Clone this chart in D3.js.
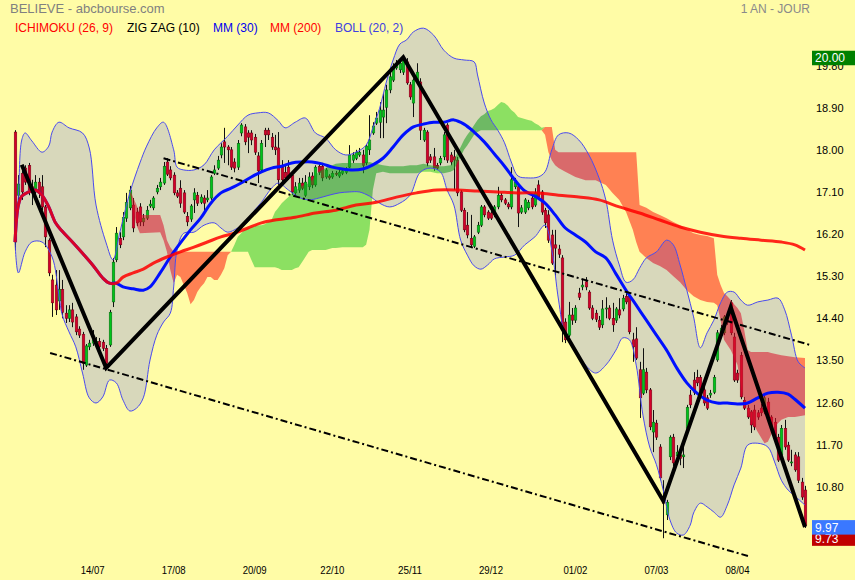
<!DOCTYPE html>
<html><head><meta charset="utf-8">
<script src="https://cdn.jsdelivr.net/npm/d3@7"></script>
<style>body{margin:0;background:#fffca6}svg{display:block;font-family:"Liberation Sans",Arial,sans-serif}</style>
</head><body><svg id="c" width="855" height="580"></svg>
<script>
// ---- candles (daily) ----
const open=[18.38,17.03,17.50,17.61,17.67,17.21,17.10,17.31,17.21,16.78,
16.07,15.22,15.11,14.77,15.02,14.51,14.40,14.58,14.43,14.17,
14.06,13.40,13.79,13.87,13.87,13.91,13.89,13.76,13.83,14.75,
15.65,16.11,16.14,16.54,16.76,16.82,16.67,16.78,16.46,16.54,
16.80,16.76,17.10,17.21,17.29,17.74,17.57,17.46,17.08,17.18,
17.08,16.58,16.52,16.93,17.03,16.88,16.97,16.93,16.97,17.50,
17.61,17.89,18.17,18.06,18.00,17.74,17.63,18.36,18.49,18.36,
18.36,18.27,17.87,17.57,18.42,18.42,18.27,18.06,18.04,17.63,
17.52,17.63,17.46,17.08,17.14,17.29,17.03,17.21,17.44,17.25,
17.65,17.65,17.42,17.44,17.42,17.50,17.44,17.50,17.52,17.63,
17.78,17.82,17.89,17.89,17.72,18.00,18.36,18.57,18.59,18.70,
18.91,19.28,19.49,19.75,19.71,19.66,19.88,19.39,19.00,19.49,
19.45,18.21,18.38,17.85,17.85,17.67,17.72,17.85,18.53,17.89,
17.85,17.78,17.10,16.71,16.39,16.11,15.94,16.24,16.39,16.78,
16.67,16.65,16.61,16.78,17.03,16.93,16.84,16.78,17.21,17.21,
16.67,16.67,16.76,16.97,16.82,17.25,17.10,16.71,16.61,16.18,
15.97,15.88,15.69,14.32,14.04,14.47,14.36,14.94,15.07,15.18,
14.96,14.62,14.51,14.36,14.26,14.60,14.62,14.40,14.36,14.58,
14.60,14.87,14.87,13.94,13.96,13.30,12.80,13.25,12.87,11.97,
12.16,11.65,10.58,10.20,11.44,11.86,11.46,11.48,11.44,12.05,
12.76,13.08,13.14,13.14,12.87,12.70,12.76,12.82,13.51,14.04,
14.09,14.43,14.73,14.00,13.23,13.61,12.65,12.48,12.40,12.44,
12.38,12.48,12.40,12.61,12.29,12.18,11.86,11.48,12.05,11.69,
11.31,11.48,11.44,10.90,10.73];
const close=[16.03,17.27,17.10,17.31,17.14,17.08,17.31,17.08,16.78,16.14,
15.37,14.73,14.58,15.02,14.53,14.40,14.58,14.32,14.11,14.04,
13.44,13.81,13.87,13.94,13.91,13.79,13.76,13.44,14.53,15.60,
16.22,15.97,16.56,16.88,17.14,16.33,16.44,16.46,16.54,16.71,
16.84,16.97,17.18,17.31,17.65,17.48,17.40,17.08,17.01,16.86,
16.67,16.46,16.80,17.08,16.86,16.99,16.86,16.97,17.42,17.57,
17.78,18.06,18.06,18.00,17.63,17.61,18.14,18.53,18.17,18.27,
18.21,17.95,17.55,18.14,18.32,18.32,18.06,18.00,17.36,17.36,
17.40,17.42,17.10,17.21,17.29,17.18,17.31,17.42,17.25,17.63,
17.52,17.40,17.57,17.40,17.50,17.48,17.52,17.55,17.57,17.89,
17.89,17.95,17.95,17.67,18.08,18.21,18.51,18.68,18.85,18.85,
19.28,19.56,19.77,19.85,19.85,19.92,19.43,19.13,19.49,19.66,
18.42,18.42,17.72,17.78,17.61,17.61,17.82,18.32,17.78,17.74,
17.78,17.08,16.71,16.29,16.18,15.97,16.14,16.39,16.78,16.61,
16.54,16.54,16.78,17.03,16.93,16.86,16.78,17.36,17.31,16.65,
16.76,16.93,16.88,16.78,17.08,16.99,16.67,16.44,16.07,15.58,
15.90,15.77,14.15,13.94,14.47,14.36,14.62,14.85,15.11,15.07,
14.62,14.40,14.38,14.21,14.60,14.62,14.40,14.26,14.60,14.47,
14.83,14.75,14.11,13.79,13.55,12.70,13.30,12.87,12.08,12.18,
11.86,10.99,10.45,10.47,11.86,11.31,11.54,11.41,11.48,12.50,
12.55,12.82,13.02,12.76,12.59,12.48,12.80,13.14,14.09,14.19,
14.43,14.32,14.09,13.08,13.08,12.72,12.48,12.29,12.12,12.08,
12.29,12.38,12.70,12.23,12.08,11.86,11.37,12.05,11.65,11.37,
11.33,11.16,10.94,10.58,9.97];
const high=[18.42,17.46,17.67,17.67,17.72,17.36,17.46,17.40,17.46,16.82,
16.11,15.33,15.43,15.43,15.22,14.68,14.68,14.73,14.49,14.23,
14.11,13.85,13.94,14.15,14.00,13.98,13.94,13.83,14.58,15.69,
16.35,16.24,16.67,17.08,17.23,16.97,16.76,16.86,16.63,16.80,
16.93,17.01,17.25,17.40,17.74,17.82,17.65,17.52,17.14,17.35,
17.14,16.67,16.84,17.18,17.10,17.05,17.03,17.14,17.46,17.67,
17.87,18.14,18.47,18.10,18.06,17.82,18.21,18.57,18.55,18.42,
18.42,18.34,17.95,18.21,18.47,18.47,18.36,18.32,18.38,17.78,
17.67,17.78,17.52,17.31,17.40,17.40,17.46,17.52,17.52,17.67,
17.69,17.72,17.61,17.48,17.55,17.55,17.57,17.59,17.63,18.10,
17.95,18.00,18.04,18.00,18.12,18.74,18.59,18.81,19.02,19.21,
19.39,19.66,19.85,19.92,19.94,19.98,19.96,19.45,19.53,19.85,
19.53,18.47,18.42,17.91,18.04,17.72,17.87,18.38,18.57,17.95,
18.00,17.85,17.14,16.76,16.67,16.61,16.18,16.46,16.82,16.82,
16.71,16.69,16.82,17.21,17.08,16.97,16.88,17.63,17.40,17.25,
16.82,16.97,16.93,17.03,17.18,17.35,17.14,16.76,16.71,16.29,
16.29,15.97,15.75,14.40,14.75,14.62,14.68,15.05,15.22,15.28,
15.00,14.68,14.58,14.45,14.79,14.85,14.68,14.73,14.64,14.83,
14.90,15.00,14.92,14.09,14.21,13.47,13.76,13.34,12.91,12.44,
12.23,11.71,10.94,10.52,11.90,11.93,11.69,11.65,11.73,12.55,
12.87,13.25,13.30,13.19,12.93,12.76,12.87,13.19,14.15,14.26,
14.47,14.49,14.79,14.09,13.30,13.68,12.72,12.55,12.44,12.55,
12.44,12.57,12.74,12.70,12.33,12.27,11.93,12.12,12.23,11.76,
11.59,11.54,11.54,10.99,10.82];
const low=[15.86,16.71,16.93,17.25,17.03,16.82,16.93,16.97,16.71,15.92,
15.30,14.43,14.47,14.58,14.40,14.30,14.32,14.21,14.04,13.98,
13.30,13.36,13.72,13.81,13.79,13.74,13.70,13.34,13.79,14.64,
15.60,15.90,16.07,16.46,16.71,16.24,16.37,16.37,16.37,16.50,
16.76,16.71,17.05,17.14,17.25,17.44,17.35,17.03,16.97,16.76,
16.63,16.37,16.46,16.65,16.80,16.84,16.67,16.88,16.93,17.46,
17.57,17.82,17.72,17.67,17.57,17.52,17.57,18.29,18.10,17.93,
18.10,17.89,17.29,17.52,18.06,18.21,18.00,17.89,17.25,17.25,
17.31,17.36,17.03,17.01,17.08,17.14,16.99,17.14,17.18,17.21,
17.46,17.33,17.38,17.36,17.38,17.44,17.40,17.46,17.48,17.61,
17.72,17.78,17.85,17.50,17.67,17.89,18.32,18.53,18.25,18.25,
18.57,19.21,19.45,19.71,19.64,19.60,19.39,19.07,18.70,19.45,
18.21,18.17,17.65,17.72,17.55,17.57,17.67,17.78,17.72,17.67,
17.14,17.01,16.67,16.24,16.11,15.90,15.90,16.20,16.35,16.56,
16.50,16.50,16.56,16.73,16.88,16.82,16.73,16.73,17.16,16.35,
16.63,16.63,16.71,16.73,16.78,16.93,16.61,16.33,16.01,15.54,
15.28,15.69,13.89,13.87,14.00,14.26,14.30,14.79,15.00,15.00,
14.58,14.36,14.32,14.15,14.19,14.40,14.36,14.11,14.30,14.40,
14.55,14.70,14.06,13.47,13.51,12.27,12.76,12.80,12.01,11.54,
11.80,10.94,9.70,10.09,11.37,11.24,11.37,11.26,11.20,12.01,
12.48,12.76,12.95,12.70,12.53,12.44,12.70,12.78,13.47,14.00,
14.04,14.26,14.04,13.04,13.02,12.67,12.44,12.25,11.95,12.01,
12.23,12.31,12.35,12.16,12.01,11.80,11.33,11.44,11.59,11.33,
11.24,11.12,10.88,10.52,9.92];

// ---- axes ----
const dateIdx=[23,47,71,94,117,141,166,190,214];
const dateLbl=["14/07","17/08","20/09","22/10","25/11","29/12","01/02","07/03","08/04"];
const priceTicks=[19.80,18.90,18.00,17.10,16.20,15.30,14.40,13.50,12.60,11.70,10.80];

// ---- Bollinger (20,2) ----
const bbUpIdx=[0,1,2,3,5,8,10,11,13,16,20,22,24,27,29,31,34,37,39,42,44,47,48,50,53,56,59,63,66,69,72,75,78,80,83,86,89,92,95,98,101,104,106,108,110,112,114,116,118,121,124,127,130,133,136,137,139,141,143,145,147,149,152,155,157,159,161,164,167,170,173,175,177,179,181,183,185,187,190,193,195,197,199,201,203,205,207,209,211,213,215,217,220,223,226,228,230,232,234];
const bbUpVal=[16.03,17.03,18.21,18.36,18.19,17.95,18.08,18.38,18.59,18.47,18.36,18.04,16.82,16.01,15.65,16.22,17.08,17.72,18.08,18.47,18.59,18.00,17.63,17.57,17.57,17.68,18.00,18.29,18.53,18.74,18.79,18.79,18.62,18.47,18.59,18.68,18.36,18.25,18.00,17.89,17.95,18.10,18.47,18.89,19.45,19.92,20.26,20.35,20.52,20.60,20.45,20.13,19.96,19.92,19.88,19.60,19.00,18.64,18.42,18.15,17.74,17.44,17.40,17.42,17.53,18.00,18.32,18.36,18.21,17.89,17.40,16.93,16.07,15.54,15.17,15.22,15.47,15.69,15.82,16.07,15.97,15.54,15.00,14.43,13.77,14.09,14.36,14.73,14.96,14.96,14.79,14.68,14.75,14.79,14.83,14.58,14.04,13.47,13.34];
const bbLoIdx=[0,1,3,5,8,11,13,14,16,18,20,22,24,26,28,30,32,34,36,38,40,42,44,46,47,48,50,53,56,59,61,63,66,69,71,73,76,78,81,84,87,90,93,96,99,102,105,108,111,114,117,120,123,126,128,130,132,134,136,138,140,142,145,148,151,154,157,159,161,163,166,169,172,175,178,180,182,184,186,188,190,192,194,196,198,200,201,203,205,207,209,211,213,215,217,220,223,225,227,229,231,234];
const bbLoVal=[16.03,15.37,15.82,16.03,16.03,15.71,14.90,14.47,14.11,13.79,13.23,12.70,12.59,12.72,13.08,13.02,12.65,12.42,12.48,12.70,13.51,14.04,14.32,14.51,15.07,15.86,16.22,16.24,16.39,16.44,16.33,16.24,16.33,16.46,16.71,16.88,17.18,17.29,17.14,16.99,16.93,16.97,17.03,17.08,17.10,17.10,17.01,16.86,16.78,16.86,17.03,17.52,17.61,17.53,17.14,16.82,16.07,15.75,15.52,15.45,15.54,15.67,15.71,15.75,15.97,16.14,16.39,15.86,14.79,14.04,13.72,13.40,13.23,13.40,13.72,13.98,13.94,13.40,12.33,11.65,11.27,10.73,10.09,9.81,9.77,9.98,10.24,10.45,10.37,10.26,10.15,10.41,10.84,11.20,11.69,11.73,11.65,11.33,10.94,10.73,10.60,10.41];

// ---- moving averages ----
const mm30Idx=[0,1,2,4,6,8,10,12,14,17,20,23,26,28,30,32,35,38,40,43,46,49,52,55,58,61,64,67,70,73,76,79,82,85,88,91,94,97,100,103,106,109,112,115,118,121,124,127,130,133,136,139,142,145,148,151,154,157,160,163,166,169,172,175,178,181,184,187,190,193,196,199,202,205,208,211,214,217,220,223,226,229,231,234];
const mm30Val=[16.03,16.82,17.01,17.10,17.14,17.03,16.78,16.44,16.26,16.03,15.79,15.54,15.26,15.15,15.15,15.07,15.03,15.00,15.07,15.37,15.71,16.01,16.29,16.54,16.86,17.08,17.18,17.29,17.42,17.53,17.61,17.65,17.72,17.74,17.74,17.70,17.63,17.59,17.57,17.59,17.68,17.82,18.06,18.32,18.49,18.55,18.59,18.59,18.64,18.55,18.38,18.17,17.91,17.65,17.36,17.12,17.01,16.86,16.61,16.33,16.18,16.03,15.82,15.69,15.35,15.00,14.68,14.36,14.04,13.72,13.34,13.02,12.80,12.65,12.59,12.59,12.57,12.59,12.70,12.80,12.82,12.78,12.67,12.48];
const mm200Idx=[0,1,2,4,6,8,10,12,14,17,20,23,26,28,30,32,35,38,41,45,49,53,57,61,65,69,73,77,83,89,95,101,107,113,119,125,131,137,143,149,155,161,167,173,179,185,191,197,203,209,215,221,227,231,234];
const mm200Val=[16.03,16.82,17.01,17.10,17.14,17.03,16.78,16.44,16.26,16.03,15.79,15.54,15.26,15.15,15.15,15.28,15.37,15.45,15.58,15.71,15.82,15.92,16.03,16.14,16.22,16.33,16.44,16.50,16.56,16.65,16.71,16.82,16.88,16.99,17.08,17.14,17.14,17.12,17.10,17.08,17.08,17.03,16.99,16.93,16.78,16.65,16.50,16.35,16.24,16.16,16.11,16.07,16.03,15.97,15.86];

// ---- Ichimoku (26,9) cloud: senkou span A / B ----
const cloudIdx=[34,36,37,43,44,45,46,47,48,49,50,51,52,53,54,55,56,57,58,59,60,61,62,63,64,65,66,67,68,69,70,71,72,73,74,75,76,77,78,79,80,81,82,83,84,85,86,87,88,89,90,91,92,93,94,95,97,99,101,103,104,105,106,107,109,111,113,115,117,119,121,123,125,127,129,130,131,132,133,134,135,136,137,138,139,140,141,142,143,144,145,146,147,148,149,150,151,152,153,154,155,156,157,158,159,160,161,163,166,169,172,175,177,179,181,183,184,185,187,189,191,193,195,197,199,201,203,205,207,208,209,210,211,212,213,214,215,216,217,218,220,222,223,224,225,227,229,231,234];
const spanA=[17.08,16.39,16.22,16.24,16.07,15.82,15.43,15.15,15.33,15.28,15.11,14.94,14.70,14.79,14.96,15.07,15.15,15.28,15.28,15.22,15.22,15.33,15.47,15.75,15.82,15.97,16.14,16.22,16.29,16.33,16.35,16.37,16.39,16.39,16.41,16.46,16.50,16.67,16.76,16.86,16.93,16.99,17.08,17.12,17.18,17.23,17.25,17.29,17.35,17.46,17.53,17.57,17.61,17.65,17.67,17.70,17.72,17.72,17.72,17.72,17.72,17.74,17.72,17.70,17.67,17.65,17.65,17.65,17.67,17.67,17.70,17.67,17.65,17.65,17.67,17.78,17.93,18.06,18.21,18.32,18.42,18.53,18.64,18.72,18.76,18.83,18.85,18.89,18.96,19.02,19.00,18.94,18.85,18.79,18.70,18.68,18.66,18.64,18.62,18.57,18.53,18.47,18.32,17.95,17.78,17.67,17.61,17.53,17.42,17.35,17.35,17.25,17.08,16.93,16.67,16.29,16.03,15.82,15.69,15.58,15.52,15.43,15.30,15.17,15.00,14.87,14.79,14.75,14.73,14.68,14.36,13.94,13.83,13.72,13.57,13.40,12.97,12.65,12.40,12.23,11.97,11.73,11.76,11.91,12.08,12.23,12.29,12.29,12.33];
const spanB=[17.14,16.82,16.61,16.61,16.39,16.07,15.92,15.82,15.82,15.82,15.82,15.82,15.82,15.82,15.82,15.82,15.82,15.82,15.82,15.82,15.82,15.82,15.82,15.82,15.82,15.82,15.82,15.82,15.82,15.82,15.65,15.49,15.49,15.49,15.49,15.49,15.49,15.49,15.47,15.43,15.43,15.43,15.43,15.47,15.49,15.60,15.71,15.82,15.86,15.86,15.86,15.86,15.86,15.88,15.90,15.90,15.92,15.92,15.92,15.92,15.97,16.29,17.14,17.50,17.53,17.50,17.50,17.50,17.50,17.50,17.53,17.53,17.50,17.50,17.53,17.57,17.72,17.85,18.00,18.10,18.21,18.32,18.38,18.42,18.42,18.42,18.42,18.42,18.42,18.42,18.42,18.42,18.42,18.42,18.42,18.42,18.42,18.42,18.42,18.42,18.42,18.42,18.49,18.49,18.49,18.00,17.95,17.95,17.95,17.95,17.95,17.95,17.95,17.95,17.95,17.95,17.95,16.82,16.76,16.67,16.61,16.54,16.46,16.39,16.29,16.22,16.18,16.16,16.11,15.33,15.11,14.94,14.87,14.79,14.70,14.62,14.51,14.15,13.72,13.68,13.68,13.68,13.68,13.66,13.64,13.61,13.59,13.57,13.55];

// ---- Zig Zag (10) ----
const zigIdx=[2,27,115,192,212,234];
const zigVal=[17.68,13.34,19.98,10.50,14.64,9.94];

// ---- channel lines ----
const chanIdx=[[44,235.5],[10.4,217.1]];
const chanVal=[[17.82,13.83],[13.66,9.32]];

// ---- right labels ----
const boxLabels=[{v:20.00,t:"20.00",c:"#008000"},{v:9.73,t:"9.73",c:"#c00000"},{v:9.97,t:"9.97",c:"#3a78ff"}];

const N=Math.min(open.length,close.length,high.length,low.length);
const W=855,H=580;
const svg=d3.select("#c");
const x=d3.scaleLinear().domain([0,N-1]).range([15,805]);
const y=d3.scaleLinear().domain([14.40,19.80]).range([318.3,65.6]);

svg.append("rect").attr("width",W).attr("height",H).attr("fill","#fffca6");

// Bollinger band shape
const upPts=bbUpIdx.map((d,k)=>[x(d),y(bbUpVal[k])]);
const loPts=bbLoIdx.map((d,k)=>[x(d),y(bbLoVal[k])]);
const lineC=d3.line().curve(d3.curveCatmullRom.alpha(0.5));
const bandPath=lineC(upPts)+lineC(loPts.slice().reverse()).replace(/^M/,"L")+"Z";
const defs=svg.append("defs");
defs.append("clipPath").attr("id","inBand").append("path").attr("d",bandPath);
const m=defs.append("mask").attr("id","outBand");
m.append("rect").attr("width",W).attr("height",H).attr("fill","#fff");
m.append("path").attr("d",bandPath).attr("fill","#000");
svg.append("path").attr("d",bandPath).attr("fill","#d8d8bb");

// candles
const cd=d3.range(N).map(i=>({i,o:open[i],c:close[i],h:Math.max(high[i],open[i],close[i]),l:Math.min(low[i],open[i],close[i])}));
const gC=svg.append("g");
gC.selectAll("line").data(cd).join("line")
 .attr("x1",d=>Math.round(x(d.i))+0.5).attr("x2",d=>Math.round(x(d.i))+0.5)
 .attr("y1",d=>y(d.h)).attr("y2",d=>y(d.l)).attr("stroke","#111").attr("stroke-width",1);
gC.selectAll("rect").data(cd).join("rect")
 .attr("x",d=>Math.round(x(d.i))-0.8).attr("width",2.6)
 .attr("y",d=>y(Math.max(d.o,d.c))).attr("height",d=>Math.max(1,Math.abs(y(d.o)-y(d.c))))
 .attr("fill",d=>d.c>=d.o?"#00c41a":"#d4002a")
 .attr("stroke",d=>d.c>=d.o?"#0a6010":"#700012").attr("stroke-width",0.5);

// Ichimoku cloud (semi-transparent, different tint inside / outside the band)
const cl=cloudIdx.map((d,k)=>({i:d,a:spanA[k],b:spanB[k]}));
const areaUp=d3.area().x(d=>x(d.i)).y0(d=>y(d.b)).y1(d=>y(Math.max(d.a,d.b)));
const areaDn=d3.area().x(d=>x(d.i)).y0(d=>y(d.b)).y1(d=>y(Math.min(d.a,d.b)));
const gOut=svg.append("g").attr("mask","url(#outBand)");
gOut.append("path").datum(cl).attr("d",areaUp).attr("fill","rgb(46,200,42)").attr("fill-opacity",0.55);
gOut.append("path").datum(cl).attr("d",areaDn).attr("fill","rgb(255,28,15)").attr("fill-opacity",0.55);
const gIn=svg.append("g").attr("clip-path","url(#inBand)");
gIn.append("path").datum(cl).attr("d",areaUp).attr("fill","rgb(23,160,30)").attr("fill-opacity",0.55);
gIn.append("path").datum(cl).attr("d",areaDn).attr("fill","rgb(218,16,41)").attr("fill-opacity",0.55);

// Bollinger lines
svg.append("path").attr("d",lineC(upPts)).attr("fill","none").attr("stroke","#4a4aee").attr("stroke-width",1);
svg.append("path").attr("d",lineC(loPts)).attr("fill","none").attr("stroke","#4a4aee").attr("stroke-width",1);

// moving averages
const lineM=d3.line().x(d=>x(d[0])).y(d=>y(d[1])).curve(d3.curveCatmullRom.alpha(0.5));
svg.append("path").attr("d",lineM(mm30Idx.map((d,k)=>[d,mm30Val[k]]))).attr("fill","none").attr("stroke","#0010ff").attr("stroke-width",3);
svg.append("path").attr("d",lineM(mm200Idx.map((d,k)=>[d,mm200Val[k]]))).attr("fill","none").attr("stroke","#ff0000").attr("stroke-opacity",0.85).attr("stroke-width",3);

// zigzag
svg.append("path").attr("d",d3.line().x(d=>x(d[0])).y(d=>y(d[1]))(zigIdx.map((d,k)=>[d,zigVal[k]])))
 .attr("fill","none").attr("stroke","#000").attr("stroke-width",4).attr("stroke-linejoin","miter");

// channel lines
chanIdx.forEach((ci,k)=>{
 svg.append("line").attr("x1",x(ci[0])).attr("x2",x(ci[1])).attr("y1",y(chanVal[k][0])).attr("y2",y(chanVal[k][1]))
  .attr("stroke","#000").attr("stroke-width",2).attr("stroke-dasharray","7,3,2,3");
});

// right axis
const ax=svg.append("g").attr("transform","translate(813,0)")
 .call(d3.axisRight(y).tickValues(priceTicks).tickFormat(d3.format(".2f")).tickSize(0).tickPadding(3));
ax.select(".domain").remove();
ax.selectAll("text").attr("font-size",11).attr("fill","#000").attr("font-family","Liberation Sans, Arial, sans-serif");

// boxed labels
boxLabels.forEach(b=>{
 const top=y(b.v)-5.5;
 svg.append("rect").attr("x",812).attr("y",top).attr("width",43).attr("height",14.5).attr("fill",b.c);
 svg.append("text").attr("x",815).attr("y",top+11.5).attr("fill","#fff").attr("font-size",12).text(b.t);
});

// date labels
svg.append("g").selectAll("text").data(dateIdx).join("text")
 .attr("x",d=>x(d)).attr("y",574).attr("text-anchor","middle").attr("font-size",11)
 .attr("textLength",24).attr("lengthAdjust","spacingAndGlyphs").attr("fill","#000")
 .text((d,k)=>dateLbl[k]);

// titles and legend
svg.append("text").attr("x",10).attr("y",13).attr("font-size",13).attr("fill","#808080").text("BELIEVE - abcbourse.com");
svg.append("text").attr("x",810).attr("y",13).attr("text-anchor","end").attr("font-size",12).attr("fill","#8a8a8a").text("1 AN - JOUR");
const legend=[{t:"ICHIMOKU (26, 9)",c:"#ff0000",x:15},{t:"ZIG ZAG (10)",c:"#000",x:127},{t:"MM (30)",c:"#0000ee",x:213},{t:"MM (200)",c:"#ff0000",x:270},{t:"BOLL (20, 2)",c:"#4040e0",x:335}];
svg.append("g").selectAll("text").data(legend).join("text")
 .attr("x",d=>d.x).attr("y",32).attr("font-size",12).attr("fill",d=>d.c).text(d=>d.t);
</script></body></html>
